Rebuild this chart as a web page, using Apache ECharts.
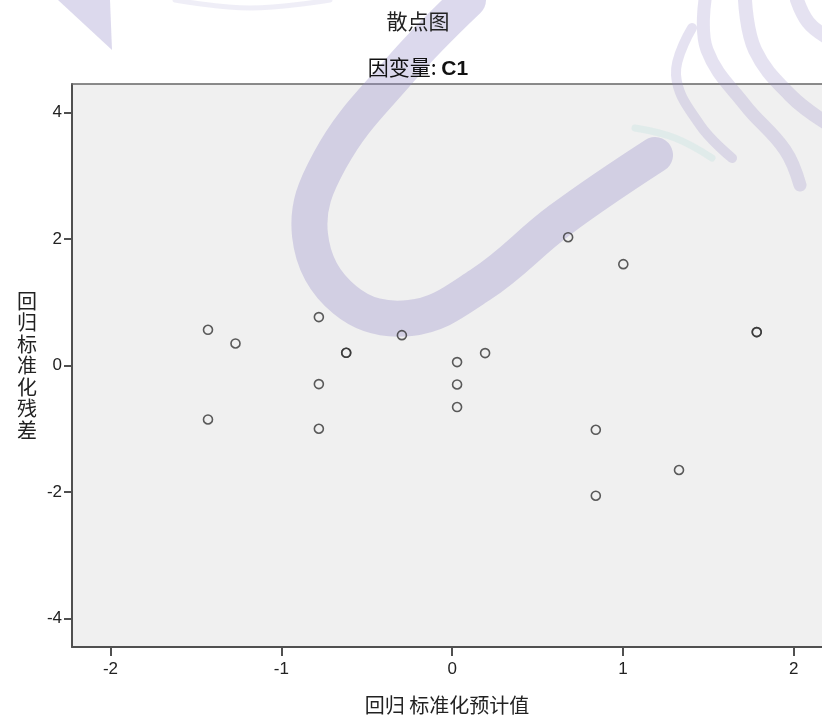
<!DOCTYPE html>
<html>
<head>
<meta charset="utf-8">
<title>散点图</title>
<script src="https://cdn.jsdelivr.net/npm/echarts@6/dist/echarts.min.js"></script>
<style>
  html, body { margin: 0; padding: 0; background: #fff; overflow: hidden; }
  #chart { width: 822px; height: 720px; }
</style>
</head>
<body>
<div id="chart"></div>
<script>
// 回归 标准化预计值 (x) 与 回归标准化残差 (y)，重叠的点重复列出
let predicted = [-1.429, -1.268, -1.429, -0.780, -0.780, -0.780, -0.620, -0.620, -0.294,
                 0.029, 0.029, 0.029, 0.193, 0.679, 1.002, 0.841, 0.841, 1.328, 1.783, 1.783];
let residual  = [0.564, 0.348, -0.853, 0.765, -0.294, -1.000, 0.201, 0.201, 0.480,
                 0.054, -0.300, -0.657, 0.196, 2.028, 1.602, -1.016, -2.058, -1.652, 0.528, 0.528];
let xTicks = [-2, -1, 0, 1, 2];
let yTicks = [-4, -2, 0, 2, 4];

const WM = 'rgba(150,140,200,0.33)';
const WM_LIGHT = 'rgba(150,140,200,0.25)';

function band(points, width, color){
    return {
        type: 'polyline', z: 1, silent: true,
        shape: { points: points, smooth: 0.4 },
        style: { fill: null, stroke: color || WM, lineWidth: width, lineCap: 'round', lineJoin: 'round' }
    };
}

function watermark(){
    // 背景水印
    return [
        band([[468, 0], [400, 70], [330, 160], [310, 235], [345, 300], [410, 318], [480, 285], [560, 220], [655, 155]], 36),
        { type: 'polygon', z: 1, silent: true,
          shape: { points: [[58, 0], [110, 0], [112, 50]] },
          style: { fill: WM } },
        band([[175, 0], [250, 8], [330, 0]], 5, 'rgba(150,140,200,0.15)'),
        band([[692, 28], [676, 75], [700, 125], [732, 158]], 10, WM_LIGHT),
        band([[705, 0], [707, 50], [745, 105], [785, 150], [800, 185]], 13, WM_LIGHT),
        band([[745, 0], [755, 50], [790, 95], [825, 122]], 14, WM_LIGHT),
        band([[797, 0], [808, 22], [825, 36]], 14, WM_LIGHT),
        band([[635, 128], [675, 138], [712, 158]], 7, 'rgba(170,220,215,0.22)')
    ];
}

let chart = echarts.init(document.getElementById('chart'));
chart.setOption({
    animation: false,
    backgroundColor: '#fff',
    title: [{
        text: '散点图',
        left: 418, top: 11, textAlign: 'center', padding: 0,
        textStyle: { fontFamily: 'Noto Sans CJK SC', fontSize: 21, fontWeight: 'normal', color: '#222' }
    }, {
        text: '因变量: {b|C1}',
        left: 418, top: 55, textAlign: 'center', padding: 0,
        textStyle: {
            fontFamily: 'Noto Sans CJK SC', fontSize: 21, fontWeight: 'normal', color: '#111',
            rich: { b: { fontFamily: 'Liberation Sans', fontSize: 21, fontWeight: 'bold', color: '#111', padding: [4, 0, 0, 0] } }
        }
    }],
    graphic: watermark(),
    grid: {
        left: 72, right: 0, top: 84, bottom: 73,
        show: true, backgroundColor: '#f0f0f0', borderWidth: 0
    },
    xAxis: [{
        type: 'value', min: -2.225, max: 2.165,
        name: '回归 标准化预计值', nameLocation: 'middle', nameGap: 48,
        nameTextStyle: { fontFamily: 'Noto Sans CJK SC', fontSize: 20, color: '#222' },
        splitLine: { show: false },
        axisLine: { onZero: false, lineStyle: { color: '#505050', width: 2 } },
        axisTick: { customValues: xTicks, length: 9, lineStyle: { color: '#505050', width: 2 } },
        axisLabel: { customValues: xTicks, margin: 14, fontFamily: 'Liberation Sans', fontSize: 17, color: '#222' }
    }, {
        type: 'value', position: 'top', min: -2.225, max: 2.165,
        splitLine: { show: false },
        axisLine: { onZero: false, lineStyle: { color: '#666', width: 1.5 } },
        axisTick: { show: false },
        axisLabel: { show: false }
    }],
    yAxis: {
        type: 'value', min: -4.45, max: 4.45,
        name: '回\n归\n标\n准\n化\n残\n差', nameLocation: 'middle', nameRotate: 0, nameGap: 35,
        nameTextStyle: { fontFamily: 'Noto Sans CJK SC', fontSize: 20, lineHeight: 21.5, color: '#222' },
        splitLine: { show: false },
        axisLine: { onZero: false, lineStyle: { color: '#505050', width: 2 } },
        axisTick: { customValues: yTicks, length: 8, lineStyle: { color: '#505050', width: 2 } },
        axisLabel: { customValues: yTicks, margin: 10, fontFamily: 'Liberation Sans', fontSize: 17, color: '#222' }
    },
    series: [{
        name: 'residual',
        type: 'scatter',
        z: 3,
        symbol: 'circle',
        symbolSize: 9,
        itemStyle: { color: 'rgba(0,0,0,0)', borderColor: '#333', borderWidth: 1.6 },
        data: predicted.map((x, i) => [x, residual[i]])
    }]
});
</script>
</body>
</html>
